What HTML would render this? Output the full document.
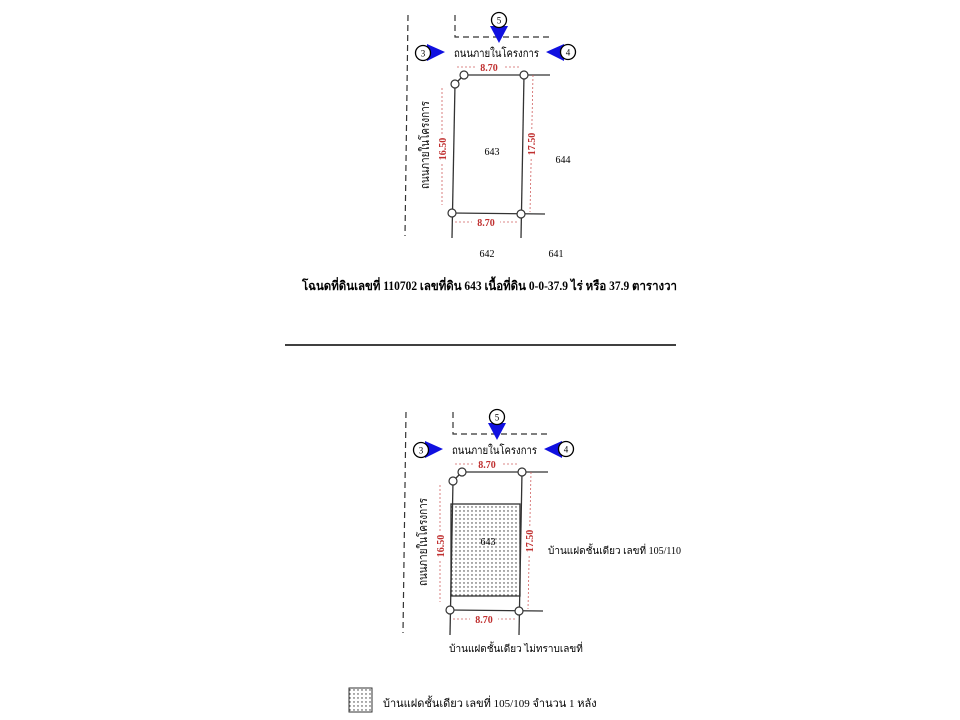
<!DOCTYPE html>
<html><head><meta charset="utf-8"><style>
html,body{margin:0;padding:0;background:#fff;}
svg{display:block;}
text{font-family:"Liberation Serif","DejaVu Serif",serif;}
</style></head><body>
<svg width="960" height="720" viewBox="0 0 960 720" xmlns="http://www.w3.org/2000/svg">
<defs>
<pattern id="dots" width="4" height="4" patternUnits="userSpaceOnUse">
<rect width="4" height="4" fill="#fff"/><circle cx="2" cy="2" r="0.7" fill="#333"/>
</pattern>
<g id="plan">
<line x1="408" y1="15" x2="405" y2="236" stroke="#333" stroke-width="1.2" stroke-dasharray="6,4"/>
<polyline points="455,15 455,37 550,37" fill="none" stroke="#333" stroke-width="1.2" stroke-dasharray="6,4"/>
<polygon points="490,26 508,26 499,43" fill="#1010e0"/>
<circle cx="499" cy="20" r="7.5" fill="#fff" stroke="#000" stroke-width="1.3"/>
<text x="499" y="23.5" font-size="9" text-anchor="middle">5</text>
<polygon points="427,44 427,61 445,52" fill="#1010e0"/>
<circle cx="423" cy="53" r="7.5" fill="#fff" stroke="#000" stroke-width="1.3"/>
<text x="423" y="56.5" font-size="9" text-anchor="middle">3</text>
<polygon points="564,44 564,61 546,52" fill="#1010e0"/>
<circle cx="568" cy="52" r="7.5" fill="#fff" stroke="#000" stroke-width="1.3"/>
<text x="568" y="55.5" font-size="9" text-anchor="middle">4</text>
<text x="454" y="57" font-size="11.5" textLength="85" lengthAdjust="spacingAndGlyphs">ถนนภายในโครงการ</text>
<text x="429" y="145" font-size="12" text-anchor="middle" textLength="88" lengthAdjust="spacingAndGlyphs" transform="rotate(-90 429 145)">ถนนภายในโครงการ</text>
<g stroke="#333" stroke-width="1.3" fill="none">
<line x1="464" y1="75" x2="550" y2="75"/>
<line x1="455" y1="84" x2="452" y2="238"/>
<line x1="524" y1="75" x2="521" y2="238"/>
<line x1="452" y1="213" x2="545" y2="214"/>
<line x1="455" y1="84" x2="464" y2="75"/>
</g>
<g stroke="#d06060" stroke-width="0.8" stroke-dasharray="2,2" fill="none">
<line x1="457" y1="67" x2="521" y2="67"/>
<line x1="442" y1="88" x2="442" y2="205"/>
<line x1="533" y1="75" x2="530" y2="212"/>
<line x1="455" y1="222" x2="519" y2="222"/>
</g>
<g fill="#c03030" font-size="10" font-weight="bold" text-anchor="middle">
<rect x="475" y="61" width="28" height="11" fill="#fff"/>
<text x="489" y="71">8.70</text>
<rect x="472" y="217" width="28" height="11" fill="#fff"/>
<text x="486" y="226">8.70</text>
<rect x="437" y="135" width="10" height="28" fill="#fff"/>
<text x="446" y="149" transform="rotate(-90 446 149)">16.50</text>
<rect x="526" y="130" width="10" height="28" fill="#fff"/>
<text x="535" y="144" transform="rotate(-90 535 144)">17.50</text>
</g>
<g fill="#fff" stroke="#333" stroke-width="1.2">
<circle cx="464" cy="75" r="4"/><circle cx="455" cy="84" r="4"/><circle cx="524" cy="75" r="4"/>
<circle cx="452" cy="213" r="4"/><circle cx="521" cy="214" r="4"/>
</g>
</g>
</defs>
<rect width="960" height="720" fill="#fff"/>
<use href="#plan"/>
<g font-size="10" text-anchor="middle">
<text x="492" y="155">643</text>
<text x="563" y="163">644</text>
<text x="487" y="257">642</text>
<text x="556" y="257">641</text>
</g>
<text x="302" y="290" font-size="12.5" font-weight="bold" textLength="375" lengthAdjust="spacingAndGlyphs">โฉนดที่ดินเลขที่ 110702 เลขที่ดิน 643 เนื้อที่ดิน 0-0-37.9 ไร่ หรือ 37.9 ตารางวา</text>
<line x1="285" y1="345" x2="676" y2="345" stroke="#000" stroke-width="1.5"/>
<g transform="translate(-2,397)">
<rect x="453" y="107" width="69" height="92" fill="url(#dots)" stroke="#333" stroke-width="1.3"/>
<use href="#plan"/>
<text x="490" y="148" font-size="10" text-anchor="middle">643</text>
</g>
<text x="548" y="554" font-size="10">บ้านแฝดชั้นเดียว เลขที่ 105/110</text>
<text x="516" y="652" font-size="10" text-anchor="middle">บ้านแฝดชั้นเดียว ไม่ทราบเลขที่</text>
<rect x="349" y="688" width="23" height="24" fill="url(#dots)" stroke="#333" stroke-width="1"/>
<text x="383" y="707" font-size="11">บ้านแฝดชั้นเดียว เลขที่ 105/109 จำนวน 1 หลัง</text>
</svg>
</body></html>
